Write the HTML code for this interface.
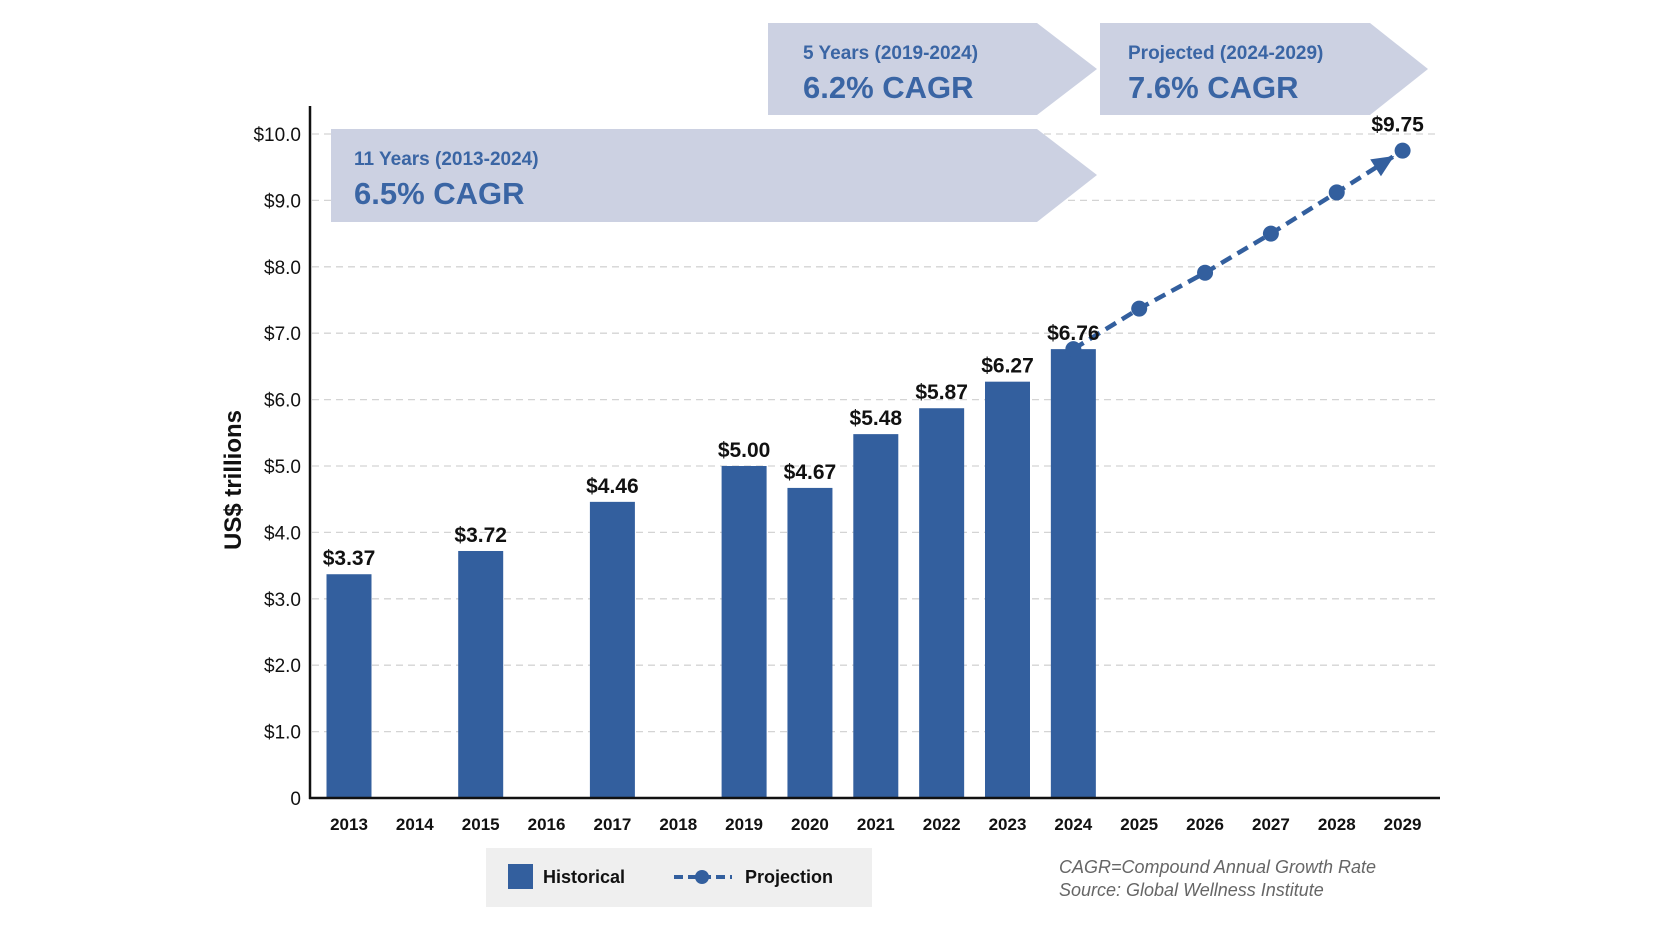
<!DOCTYPE html>
<html><head><meta charset="utf-8"><style>
body{margin:0;background:#fff;width:1664px;height:928px;overflow:hidden;font-family:"Liberation Sans",sans-serif}
</style></head><body>
<svg id="chart" width="1664" height="928" xmlns="http://www.w3.org/2000/svg" font-family="Liberation Sans, sans-serif">
<g id="grid"></g>
<g id="banners">
<polygon points="768,23 1037,23 1097,69 1037,115 768,115" fill="#ccd1e2"/>
<text x="803" y="59" font-size="19" font-weight="bold" fill="#3a65a4">5 Years (2019-2024)</text>
<text x="803" y="98" font-size="31" font-weight="bold" fill="#3a65a4">6.2% CAGR</text>
<polygon points="1100,23 1370,23 1428,69 1370,115 1100,115" fill="#ccd1e2"/>
<text x="1128" y="59" font-size="19" font-weight="bold" fill="#3a65a4">Projected (2024-2029)</text>
<text x="1128" y="98" font-size="31" font-weight="bold" fill="#3a65a4">7.6% CAGR</text>
<polygon points="331,129 1037,129 1097,175 1037,222 331,222" fill="#ccd1e2"/>
<text x="354" y="165" font-size="19" font-weight="bold" fill="#3a65a4">11 Years (2013-2024)</text>
<text x="354" y="204" font-size="31" font-weight="bold" fill="#3a65a4">6.5% CAGR</text>
</g>
<g id="bars"></g><g id="line"></g><g id="labels"></g>
<line x1="310" y1="106" x2="310" y2="799" stroke="#111" stroke-width="2.5"/>
<line x1="309" y1="798" x2="1440" y2="798" stroke="#111" stroke-width="2.5"/>
<text transform="translate(241,480) rotate(-90)" text-anchor="middle" font-size="24" font-weight="bold" fill="#111">US$ trillions</text>
<g>
<rect x="486" y="848" width="386" height="59" fill="#efefef"/>
<rect x="508" y="864" width="25" height="25" fill="#335f9e"/>
<text x="543" y="883" font-size="18" font-weight="bold" fill="#111">Historical</text>
<line x1="674" y1="877" x2="732" y2="877" stroke="#335f9e" stroke-width="4" stroke-dasharray="9,5"/>
<circle cx="702" cy="877" r="7" fill="#335f9e"/>
<text x="745" y="883" font-size="18" font-weight="bold" fill="#111">Projection</text>
</g>
<text x="1059" y="873" font-size="18" font-style="italic" fill="#666">CAGR=Compound Annual Growth Rate</text>
<text x="1059" y="896" font-size="18" font-style="italic" fill="#666">Source: Global Wellness Institute</text>
</svg>
<script>
const years=["2013","2014","2015","2016","2017","2018","2019","2020","2021","2022","2023","2024","2025","2026","2027","2028","2029"];
const histYears=["2013","2015","2017","2019","2020","2021","2022","2023","2024"];
const histValues=[3.37,3.72,4.46,5.00,4.67,5.48,5.87,6.27,6.76];
const projYears=["2024","2025","2026","2027","2028","2029"];
const projValues=[6.76,7.37,7.91,8.50,9.12,9.75];
const yTicks=[0,1,2,3,4,5,6,7,8,9,10];
const yTickLabels=["0","$1.0","$2.0","$3.0","$4.0","$5.0","$6.0","$7.0","$8.0","$9.0","$10.0"];
const NS="http://www.w3.org/2000/svg";
const y=v=>798-v*66.4;
const x=yr=>349+years.indexOf(yr)*65.85;
function mk(tag,attrs,parent,text){const e=document.createElementNS(NS,tag);for(const k in attrs)e.setAttribute(k,attrs[k]);if(text!==undefined)e.textContent=text;document.getElementById(parent).appendChild(e);return e;}
yTicks.forEach((t,i)=>{
 if(t>0){const g=mk('line',{x1:312,x2:1438,y1:y(t),y2:y(t),stroke:'#d4d4d4','stroke-width':1.3,'stroke-dasharray':'7,5'},'grid');
 
 }
 const l=mk('text',{x:301,y:y(t)+7,'text-anchor':'end','font-size':19,fill:'#111'},'labels',yTickLabels[i]);
 
 
});
years.forEach(yr=>{
 const l=mk('text',{x:x(yr),y:830,'text-anchor':'middle','font-size':17,'font-weight':'bold',fill:'#111'},'labels',yr);
 
 
});
histYears.forEach((yr,i)=>{
 const v=histValues[i];
 const b=mk('rect',{x:x(yr)-22.5,y:y(v),width:45,height:798-y(v),fill:'#335f9e'},'bars');
 
 
 const l=mk('text',{x:x(yr),y:y(v)-9,'text-anchor':'middle','font-size':21,'font-weight':'bold',fill:'#111'},'labels','$'+v.toFixed(2));
 
 
});
const pts=projYears.map((yr,i)=>[x(yr),y(projValues[i])]);
const pl=mk('polyline',{points:pts.map(p=>p.join(',')).join(' '),fill:'none',stroke:'#335f9e','stroke-width':4.5,'stroke-dasharray':'12,7'},'line');


pts.forEach((p,i)=>{
 const c=mk('circle',{cx:p[0],cy:p[1],r:8,fill:'#335f9e'},'line');
 
 
});
const a=pts[pts.length-2],b=pts[pts.length-1];
const ang=Math.atan2(b[1]-a[1],b[0]-a[0]);
const tip=[b[0]-10*Math.cos(ang),b[1]-10*Math.sin(ang)];
const bs=[tip[0]-22*Math.cos(ang),tip[1]-22*Math.sin(ang)];
const nx=-Math.sin(ang),ny=Math.cos(ang);
const ar=mk('polygon',{points:`${tip[0]},${tip[1]} ${bs[0]+10*nx},${bs[1]+10*ny} ${bs[0]-10*nx},${bs[1]-10*ny}`,fill:'#335f9e'},'line');


const lv=projValues[projValues.length-1];
const tl=mk('text',{x:b[0]-5,y:y(lv)-19,'text-anchor':'middle','font-size':21,'font-weight':'bold',fill:'#111'},'labels','$'+lv.toFixed(2));


</script>
</body></html>
